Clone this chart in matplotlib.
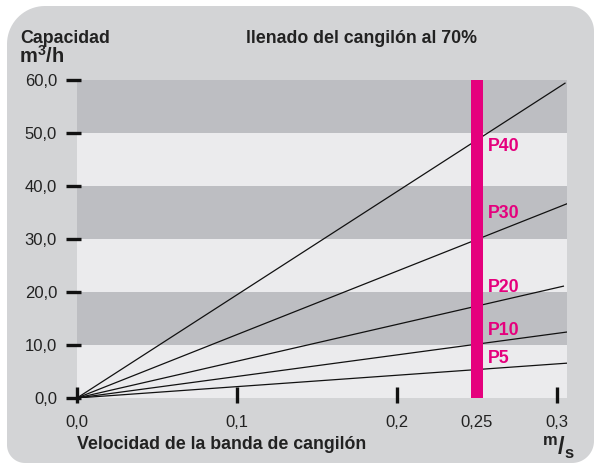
import numpy as np
import matplotlib
matplotlib.use('Agg')
import matplotlib.pyplot as plt
from matplotlib.patches import Polygon
from matplotlib.transforms import IdentityTransform

plt.rcParams['font.family'] = ['Liberation Sans', 'DejaVu Sans']
plt.rcParams['mathtext.fontset'] = 'custom'
plt.rcParams['mathtext.bf'] = 'Liberation Sans:bold'
plt.rcParams['mathtext.rm'] = 'Liberation Sans'

# data
series = ['P5', 'P10', 'P20', 'P30', 'P40']
speed_end = [0.3075, 0.3075, 0.304, 0.3075, 0.305]
cap_end = [6.6, 12.5, 21.1, 36.8, 59.4]
label_y = [7.4, 12.8, 20.8, 34.9, 47.5]
band_edges = [0, 10, 20, 30, 40, 50, 60]
x_ticks = [0.0, 0.1, 0.2, 0.3]
x_labels = ['0,0', '0,1', '0,2', '0,25', '0,3']
x_label_pos = [0.0, 0.1, 0.2, 0.25, 0.3]
y_ticks = [0, 10, 20, 30, 40, 50, 60]
y_labels = ['0,0', '10,0', '20,0', '30,0', '40,0', '50,0', '60,0']
design_speed = 0.25

W, H = 594, 463
magenta = '#e5007d'
dark = '#bdbec2'
light = '#ebebed'
ink = '#222222'
fs_bold = 12.8
fs_tick = 12

fig = plt.figure(figsize=(W / 100, H / 100), dpi=100)
fig.patch.set_facecolor('white')


def corner(cx, cy, r, a0, a1):
    t = np.linspace(np.radians(a0), np.radians(a1), 20)
    return np.column_stack([cx + r * np.cos(t), cy + r * np.sin(t)])


# rounded grey backdrop in pixels, origin bottom-left
L, R, T, B = 7, 594, H - 6, 0
rtl, rtr, rbr, rbl = 38, 25, 22, 18
pts = np.vstack([
    corner(L + rtl, T - rtl, rtl, 90, 180),
    corner(L + rbl, B + rbl, rbl, 180, 270),
    corner(R - rbr, B + rbr, rbr, 270, 360),
    corner(R - rtr, T - rtr, rtr, 0, 90),
])
bg = Polygon(pts, closed=True, transform=IdentityTransform(),
             facecolor='#d3d4d6', edgecolor='none', zorder=-5)
fig.patches.append(bg)

ax = fig.add_axes([77 / W, (H - 398) / H, (567 - 77) / W, (398 - 80) / H])
ax.set_zorder(1)
ax.set_xlim(0, 0.30625)
ax.set_ylim(0, 60)
ax.patch.set_visible(False)
for s in ax.spines.values():
    s.set_visible(False)

for i in range(len(band_edges) - 1):
    c = light if i % 2 == 0 else dark
    ax.axhspan(band_edges[i], band_edges[i + 1], color=c, lw=0, zorder=0)

for xe, ye in zip(speed_end, cap_end):
    ax.plot([0, xe], [0, ye], color='#111111', lw=0.9, zorder=2)

ax.axvspan(design_speed - 0.0037, design_speed + 0.0037, color=magenta, lw=0, zorder=3)

for name, yl in zip(series, label_y):
    ax.text(0.2565, yl, name, color=magenta, fontsize=fs_bold, fontweight='bold',
            va='center', ha='left', zorder=4)

# ticks drawn by hand: y ticks 11 px out / 4 px in, x ticks 11 px in / 5 px out
px_x = 0.30625 / (567 - 77)
px_y = 60 / (398 - 80)
ax.set_xticks([])
ax.set_yticks(y_ticks)
ax.set_yticklabels(y_labels)
ax.tick_params(axis='y', length=0, labelsize=fs_tick, pad=14.4, labelcolor=ink)
for yt in y_ticks:
    ax.plot([-11 * px_x, 4 * px_x], [yt, yt], color='#111111', lw=2.4,
            clip_on=False, solid_capstyle='butt', zorder=5)
for xt in x_ticks:
    ax.plot([xt, xt], [-5 * px_y, 11 * px_y], color='#111111', lw=2.4,
            clip_on=False, solid_capstyle='butt', zorder=5)
for xp, lab in zip(x_label_pos, x_labels):
    ax.text(xp, -17 * px_y, lab, ha='center', va='top', fontsize=fs_tick, color=ink)

fig.text(20 / W, 1 - 43 / H, 'Capacidad', fontsize=fs_bold, fontweight='bold',
         va='baseline', ha='left', color=ink)
fig.text(19 / W, 1 - 63 / H, r'$\mathbf{m^{3}/h}$', fontsize=14.5,
         va='baseline', ha='left', color=ink)
fig.text(361 / W, 1 - 43 / H, 'llenado del cangilón al 70%', fontsize=fs_bold,
         fontweight='bold', va='baseline', ha='center', color=ink)
fig.text(77 / W, 1 - 449 / H, 'Velocidad de la banda de cangilón', fontsize=fs_bold,
         fontweight='bold', va='baseline', ha='left', color=ink)
fig.text(542 / W, 1 - 455 / H, r'$\mathbf{^{m}/_{s}}$', fontsize=17,
         va='baseline', ha='left', color=ink)

fig.savefig('out.png', dpi=100)
